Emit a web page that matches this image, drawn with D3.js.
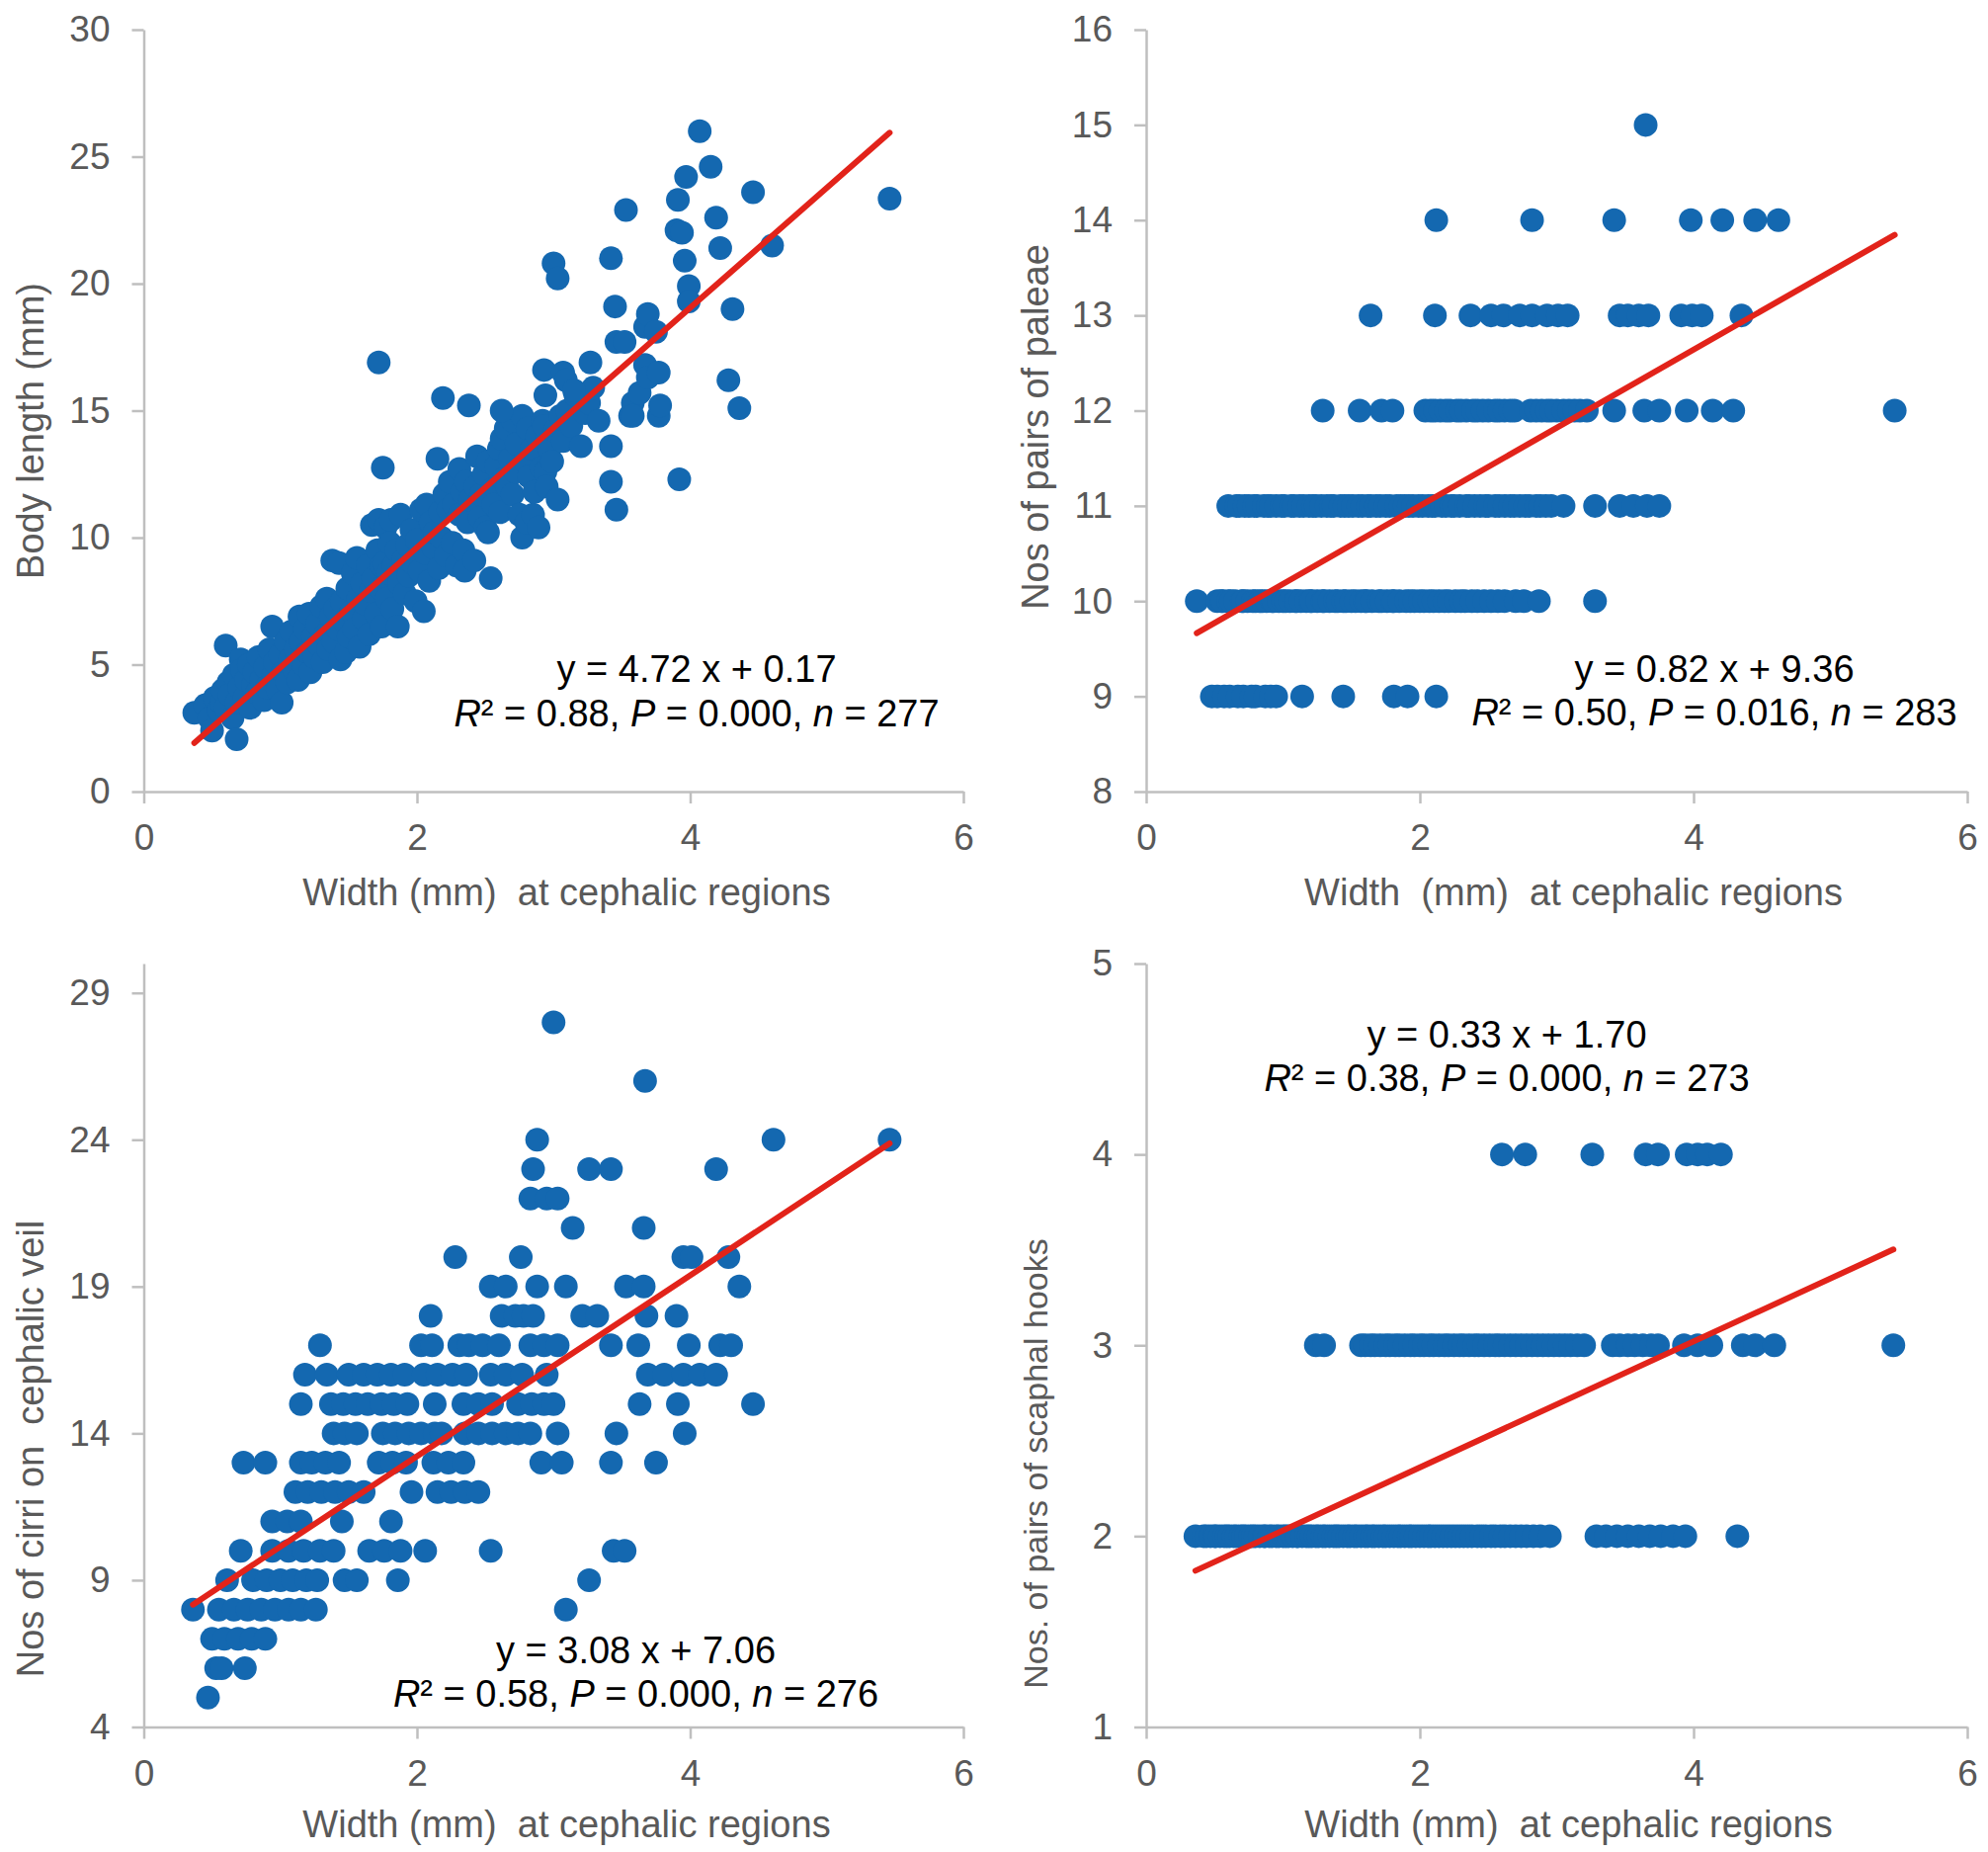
<!DOCTYPE html>
<html><head><meta charset="utf-8">
<script src="https://cdn.jsdelivr.net/npm/d3@7"></script>
<style>
html,body{margin:0;padding:0;background:#fff;}
svg{display:block;}
</style></head>
<body>
<svg id="chart" width="2012" height="1874"></svg>
<script>
// ================= DATA =================
const xTicks = [0, 2, 4, 6];
const bodyTicks = [0, 5, 10, 15, 20, 25, 30];
const paleaeTicks = [8, 9, 10, 11, 12, 13, 14, 15, 16];
const cirriTicks = [4, 9, 14, 19, 24, 29];
const hookTicks = [1, 2, 3, 4, 5];

// Panel A: width (mm) vs body length (mm)
const bodyPoints = [
[0.37,3.1],[0.45,3.4],[0.48,2.9],[0.50,2.4],[0.52,3.7],[0.55,3.2],[0.57,3.5],[0.58,4.0],[0.60,3.3],[0.60,5.75],
[0.62,4.3],[0.63,3.8],[0.65,2.9],[0.66,4.6],[0.68,2.06],[0.68,3.5],[0.70,4.1],[0.71,5.2],[0.72,4.8],[0.74,3.7],
[0.75,4.4],[0.77,5.0],[0.78,3.3],[0.80,4.2],[0.81,4.7],[0.83,3.9],[0.84,5.3],[0.86,4.4],[0.88,3.6],[0.89,4.9],
[0.90,4.1],[0.92,5.6],[0.94,6.5],[0.95,4.6],[0.96,5.1],[0.98,4.0],[1.00,5.4],[1.01,3.5],[1.02,4.7],[1.04,5.9],
[1.05,4.3],[1.07,5.2],[1.08,6.3],[1.10,4.8],[1.11,5.6],[1.13,4.4],[1.14,6.9],[1.15,5.9],[1.17,5.0],[1.18,6.4],
[1.20,5.5],[1.21,7.0],[1.22,4.7],[1.24,6.1],[1.25,5.3],[1.27,6.6],[1.28,5.8],[1.30,7.3],[1.31,5.1],[1.33,6.2],
[1.34,7.6],[1.35,5.6],[1.37,6.9],[1.38,9.1],[1.39,5.9],[1.40,7.2],[1.42,6.4],[1.43,9.0],[1.44,5.2],[1.45,7.5],
[1.47,6.7],[1.48,5.5],[1.49,8.0],[1.50,6.1],[1.52,7.1],[1.53,8.6],[1.54,6.4],[1.56,9.2],[1.57,7.6],[1.58,5.7],
[1.60,8.2],[1.61,6.8],[1.62,7.4],[1.64,8.9],[1.65,6.2],[1.66,7.9],[1.67,10.5],[1.68,8.4],[1.70,7.0],[1.71,9.5],
[1.72,10.7],[1.73,8.0],[1.74,6.5],[1.74,8.9],[1.76,9.0],[1.77,10.4],[1.78,7.6],[1.79,8.6],[1.80,9.8],[1.81,10.7],
[1.82,7.2],[1.83,8.9],[1.85,9.5],[1.86,6.5],[1.87,8.2],[1.88,10.9],[1.90,9.1],[1.91,7.8],[1.93,9.7],[1.94,8.5],
[1.96,10.3],[1.97,9.0],[1.99,7.5],[2.00,9.9],[2.02,8.7],[2.03,11.1],[2.05,7.1],[2.06,9.4],[2.07,11.3],[2.09,8.3],
[2.10,10.6],[2.12,9.6],[2.13,10.2],[2.15,13.1],[2.16,8.8],[2.17,11.0],[2.18,10.0],[2.20,11.7],[2.21,9.3],[2.23,11.1],
[2.24,12.2],[2.26,9.8],[2.27,11.3],[2.29,8.9],[2.31,12.7],[2.31,10.9],[2.33,11.8],[2.34,9.5],[2.35,8.7],[2.36,12.2],
[2.37,10.6],[2.39,11.5],[2.42,9.1],[2.43,12.0],[2.44,13.2],[2.46,10.8],[2.47,11.7],[2.49,12.5],[2.50,10.4],[2.52,13.0],
[2.52,10.2],[2.54,8.4],[2.55,11.9],[2.56,11.3],[2.58,12.8],[2.60,13.5],[2.61,11.0],[2.62,13.9],[2.63,12.3],[2.65,14.3],
[2.66,12.0],[2.68,13.1],[2.70,14.6],[2.70,11.7],[2.72,12.6],[2.73,13.7],[2.75,10.9],[2.77,10.0],[2.77,14.8],[2.79,13.0],
[2.80,10.6],[2.81,14.3],[2.82,12.4],[2.84,13.5],[2.85,10.9],[2.86,11.8],[2.88,14.0],[2.89,10.4],[2.91,12.75],[2.92,14.6],
[2.93,14.4],[2.94,12.6],[2.95,12.0],[2.94,15.6],[2.97,13.5],[2.99,13.0],[3.01,14.2],[3.03,11.5],[3.05,14.8],[3.07,13.8],
[3.10,15.0],[3.13,14.4],[3.16,15.6],[3.20,13.6],[3.23,14.9],[3.26,15.3],[3.29,15.9],[3.33,14.6],
[2.19,15.5],[2.38,15.2],[2.62,15.0],[2.93,16.6],[3.07,16.5],[3.09,16.2],[3.15,15.8],[3.27,16.9],[1.72,16.9],[1.75,12.75],
[3.42,13.6],[3.42,12.2],[3.46,11.1],[3.92,12.3],[3.56,14.8],[3.58,15.3],[3.58,14.8],[3.63,15.7],[3.67,16.8],[3.69,16.3],
[3.77,16.5],[3.77,14.8],[3.78,15.2],[4.28,16.2],[4.36,15.1],[3.46,17.7],[3.52,17.7],[3.67,18.3],[3.69,18.8],[3.75,18.1],
[3.45,19.1],[4.31,19.0],[3.99,19.9],[3.99,19.3],[3.00,20.8],[3.03,20.2],[3.42,21.0],[3.96,20.9],[4.22,21.4],[4.60,21.5],
[3.90,22.1],[3.94,22.0],[4.19,22.6],[3.53,22.9],[3.91,23.3],[4.46,23.6],[5.46,23.35],[3.97,24.2],[4.15,24.6],[4.07,26.0]
];

// Panel B: nos of pairs of paleae (rows by value)
const paleaeLevels = [9, 10, 11, 12, 13, 14, 15];
const paleaeWidths = [
  [0.48,0.52,0.57,0.61,0.67,0.71,0.77,0.80,0.87,0.91,0.95,1.14,1.44,1.81,1.91,2.12],
  [0.37,0.52,0.55,0.56,0.60,0.62,0.65,0.70,0.71,0.74,0.78,0.80,0.83,0.85,0.88,0.92,0.93,0.97,1.00,1.02,1.05,1.09,1.10,1.13,
   1.17,1.20,1.21,1.25,1.29,1.30,1.34,1.38,1.40,1.44,1.46,1.50,1.53,1.57,1.60,1.61,1.65,1.70,1.72,1.76,1.80,1.81,1.85,1.90,
   1.93,1.96,2.00,2.03,2.07,2.10,2.14,2.18,2.21,2.26,2.30,2.33,2.38,2.42,2.47,2.52,2.57,2.62,2.70,2.76,2.87,3.28],
  [0.60,0.66,0.68,0.72,0.75,0.79,0.81,0.86,0.89,0.91,0.95,0.99,1.01,1.06,1.08,1.12,1.15,1.19,1.22,1.24,1.28,1.32,1.35,1.37,
   1.42,1.45,1.48,1.51,1.55,1.58,1.62,1.64,1.68,1.71,1.75,1.78,1.83,1.86,1.89,1.92,1.95,1.99,2.02,2.06,2.09,2.11,2.16,2.19,
   2.23,2.25,2.29,2.34,2.36,2.40,2.44,2.48,2.50,2.55,2.58,2.62,2.66,2.69,2.73,2.77,2.80,2.85,2.88,2.92,2.96,3.05,3.28,3.46,
   3.56,3.66,3.75],
  [1.29,1.56,1.72,1.80,2.04,2.08,2.11,2.15,2.19,2.22,2.27,2.30,2.34,2.39,2.42,2.46,2.50,2.55,2.58,2.62,2.66,2.69,2.81,2.85,
   2.89,2.93,2.96,3.00,3.05,3.09,3.13,3.17,3.22,3.42,3.64,3.75,3.95,4.14,4.29,5.47],
  [1.64,2.11,2.37,2.52,2.61,2.73,2.82,2.93,3.01,3.08,3.46,3.52,3.60,3.67,3.91,3.99,4.06,4.35],
  [2.12,2.82,3.42,3.98,4.21,4.45,4.62],
  [3.65]
];

// Panel C: nos of cirri on cephalic veil (rows by value)
const cirriLevels = [5, 6, 7, 8, 9, 10, 11, 12, 13, 14, 15, 16, 17, 18, 19, 20, 21, 22, 23, 24, 26, 28];
const cirriWidths = [
  [0.47],
  [0.53,0.57,0.74],
  [0.50,0.59,0.69,0.79,0.89],
  [0.36,0.55,0.66,0.76,0.86,0.96,1.06,1.15,1.26,3.09],
  [0.61,0.80,0.90,1.00,1.09,1.19,1.27,1.47,1.56,1.86,3.26],
  [0.71,0.94,1.06,1.17,1.29,1.39,1.65,1.76,1.88,2.06,2.54,3.44,3.52],
  [0.94,1.05,1.15,1.45,1.81],
  [1.11,1.20,1.30,1.40,1.50,1.61,1.96,2.15,2.25,2.35,2.45],
  [0.73,0.89,1.15,1.23,1.33,1.43,1.72,1.82,1.92,2.12,2.23,2.34,2.91,3.06,3.42,3.75],
  [1.39,1.47,1.56,1.75,1.84,1.94,2.03,2.13,2.18,2.35,2.45,2.55,2.65,2.74,2.83,3.03,3.46,3.96],
  [1.15,1.37,1.46,1.55,1.64,1.74,1.83,1.93,2.13,2.34,2.45,2.55,2.74,2.84,2.93,3.00,3.63,3.91,4.46],
  [1.18,1.34,1.50,1.61,1.71,1.81,1.91,2.05,2.15,2.26,2.36,2.54,2.65,2.77,2.95,3.69,3.81,3.95,4.07,4.19],
  [1.29,2.03,2.11,2.31,2.38,2.48,2.60,2.83,2.93,3.03,3.42,3.62,3.99,4.22,4.30],
  [2.10,2.62,2.72,2.78,2.85,3.21,3.32,3.68,3.90],
  [2.54,2.65,2.88,3.09,3.53,3.66,4.36],
  [2.28,2.76,3.95,4.01,4.28],
  [3.14,3.66],
  [2.83,2.95,3.03],
  [2.85,3.26,3.42,4.19],
  [2.88,4.61,5.46],
  [3.67],
  [3.00]
];

// Panel D: nos. of pairs of scaphal hooks (rows by value)
const hookLevels = [2, 3, 4];
const hookWidths = [
  [0.36,0.42,0.44,0.47,0.50,0.51,0.54,0.57,0.59,0.61,0.64,0.66,0.69,0.71,0.73,0.76,0.78,0.80,0.83,0.86,0.87,0.90,0.92,0.95,
   0.97,1.00,1.02,1.04,1.07,1.10,1.11,1.14,1.17,1.19,1.21,1.24,1.26,1.29,1.31,1.34,1.37,1.39,1.41,1.44,1.47,1.49,1.52,1.54,
   1.57,1.60,1.62,1.65,1.67,1.70,1.73,1.75,1.78,1.81,1.84,1.86,1.89,1.92,1.94,1.97,2.00,2.03,2.06,2.08,2.11,2.14,2.17,2.20,
   2.23,2.26,2.29,2.32,2.35,2.38,2.42,2.45,2.48,2.52,2.55,2.59,2.62,2.66,2.70,2.74,2.78,2.83,2.88,2.95,3.29,3.36,3.44,3.52,
   3.60,3.68,3.76,3.85,3.94,4.32],
  [1.24,1.30,1.57,1.60,1.64,1.67,1.71,1.75,1.78,1.82,1.85,1.89,1.93,1.96,2.00,2.03,2.07,2.10,2.14,2.18,2.21,2.25,2.29,2.32,
   2.36,2.40,2.43,2.47,2.51,2.55,2.58,2.62,2.66,2.70,2.74,2.78,2.82,2.86,2.90,2.94,2.98,3.02,3.06,3.10,3.15,3.20,3.41,3.46,
   3.52,3.57,3.63,3.69,3.74,3.93,4.03,4.13,4.36,4.45,4.59,5.46],
  [2.60,2.77,3.26,3.65,3.74,3.95,4.03,4.10,4.20]
];

// Regression fits and annotation text
const fitSlope = [4.72, 0.82, 3.08, 0.33];
const fitIntercept = [0.17, 9.36, 7.06, 1.70];
const eqLine = ["y = 4.72 x + 0.17", "y = 0.82 x + 9.36", "y = 3.08 x + 7.06", "y = 0.33 x + 1.70"];
const r2Text = ["0.88", "0.50", "0.58", "0.38"];
const pText = ["0.000", "0.016", "0.000", "0.000"];
const nText = ["277", "283", "276", "273"];
const xTitles = ["Width (mm)  at cephalic regions", "Width  (mm)  at cephalic regions",
                 "Width (mm)  at cephalic regions", "Width (mm)  at cephalic regions"];
const yTitles = ["Body length (mm)", "Nos of pairs of paleae", "Nos of cirri on  cephalic veil", "Nos. of pairs of scaphal hooks"];

// ================= LAYOUT =================
const rowsToPoints = (levels, widths) => levels.flatMap((lv, i) => widths[i].map(w => [w, lv]));
const panelData = [
  bodyPoints,
  rowsToPoints(paleaeLevels, paleaeWidths),
  rowsToPoints(cirriLevels, cirriWidths),
  rowsToPoints(hookLevels, hookWidths)
];
const panels = [
  {xr:[145.5, 975], yr:[801, 30], yd:[0, 30], yt:bodyTicks,
   eqX:705, eqY1:690, eqY2:735, xtX:573.5, xtY:916, ytX:44, ytY:436, ytSize:38},
  {xr:[1160, 1991], yr:[801, 30], yd:[8, 16], yt:paleaeTicks,
   eqX:1735, eqY1:690, eqY2:734, xtX:1592.5, xtY:916, ytX:1061, ytY:432, ytSize:38},
  {xr:[145.5, 975], yr:[1747.5, 975], yd:[4, 30], yt:cirriTicks,
   eqX:643.5, eqY1:1683, eqY2:1727, xtX:573.5, xtY:1859, ytX:44, ytY:1466, ytSize:38},
  {xr:[1160, 1991], yr:[1747.5, 975], yd:[1, 5], yt:hookTicks,
   eqX:1525, eqY1:1060, eqY2:1104, xtX:1587.5, xtY:1859, ytX:1060, ytY:1481, ytSize:34}
];

const FONT = "'Liberation Sans', Arial, Helvetica, sans-serif";
const AXIS_COLOR = "#bfbfbf";
const LABEL_COLOR = "#595959";
const DOT_COLOR = "#1468b0";
const LINE_COLOR = "#e2231a";

const svg = d3.select("#chart");
svg.append("rect").attr("width", 2012).attr("height", 1874).attr("fill", "#fff");

panels.forEach((p, i) => {
  const g = svg.append("g");
  const x = d3.scaleLinear().domain([0, 6]).range(p.xr);
  const y = d3.scaleLinear().domain(p.yd).range(p.yr);

  const xa = d3.axisBottom(x).tickValues(xTicks).tickSize(12).tickSizeOuter(0)
    .tickPadding(21).tickFormat(d3.format("d"));
  const ya = d3.axisLeft(y).tickValues(p.yt).tickSize(12).tickSizeOuter(0)
    .tickPadding(22).tickFormat(d3.format("d"));

  const gx = g.append("g").attr("transform", `translate(0,${p.yr[0]})`).call(xa);
  const gy = g.append("g").attr("transform", `translate(${p.xr[0]},0)`).call(ya);
  [gx, gy].forEach(ax => {
    ax.select(".domain").attr("stroke", AXIS_COLOR).attr("stroke-width", 2.5);
    ax.selectAll(".tick line").attr("stroke", AXIS_COLOR).attr("stroke-width", 2.5);
    ax.selectAll(".tick text").attr("fill", LABEL_COLOR)
      .style("font-family", FONT).style("font-size", "37px");
  });

  // points
  g.append("g").selectAll("circle").data(panelData[i]).join("circle")
    .attr("cx", d => x(d[0])).attr("cy", d => y(d[1]))
    .attr("r", 12).attr("fill", DOT_COLOR);

  // regression line across the data range
  const ext = d3.extent(panelData[i], d => d[0]);
  const f = v => fitSlope[i] * v + fitIntercept[i];
  g.append("line")
    .attr("x1", x(ext[0])).attr("y1", y(f(ext[0])))
    .attr("x2", x(ext[1])).attr("y2", y(f(ext[1])))
    .attr("stroke", LINE_COLOR).attr("stroke-width", 6).attr("stroke-linecap", "round");

  // equation text
  const tg = g.append("g").style("font-family", FONT).style("font-size", "38px").attr("fill", "#000");
  tg.append("text").attr("x", p.eqX).attr("y", p.eqY1).attr("text-anchor", "middle").text(eqLine[i]);
  const t2 = tg.append("text").attr("x", p.eqX).attr("y", p.eqY2).attr("text-anchor", "middle");
  t2.append("tspan").style("font-style", "italic").text("R");
  t2.append("tspan").text("\u00B2 = " + r2Text[i] + ", ");
  t2.append("tspan").style("font-style", "italic").text("P");
  t2.append("tspan").text(" = " + pText[i] + ", ");
  t2.append("tspan").style("font-style", "italic").text("n");
  t2.append("tspan").text(" = " + nText[i]);

  // axis titles
  g.append("text").attr("x", p.xtX).attr("y", p.xtY).attr("text-anchor", "middle")
    .attr("fill", LABEL_COLOR).style("font-family", FONT).style("font-size", "38px")
    .style("white-space", "pre").attr("xml:space", "preserve").text(xTitles[i]);
  g.append("text").attr("transform", `translate(${p.ytX},${p.ytY}) rotate(-90)`)
    .attr("text-anchor", "middle").attr("fill", LABEL_COLOR)
    .style("font-family", FONT).style("font-size", p.ytSize + "px")
    .style("white-space", "pre").attr("xml:space", "preserve").text(yTitles[i]);
});
</script>
</body></html>
